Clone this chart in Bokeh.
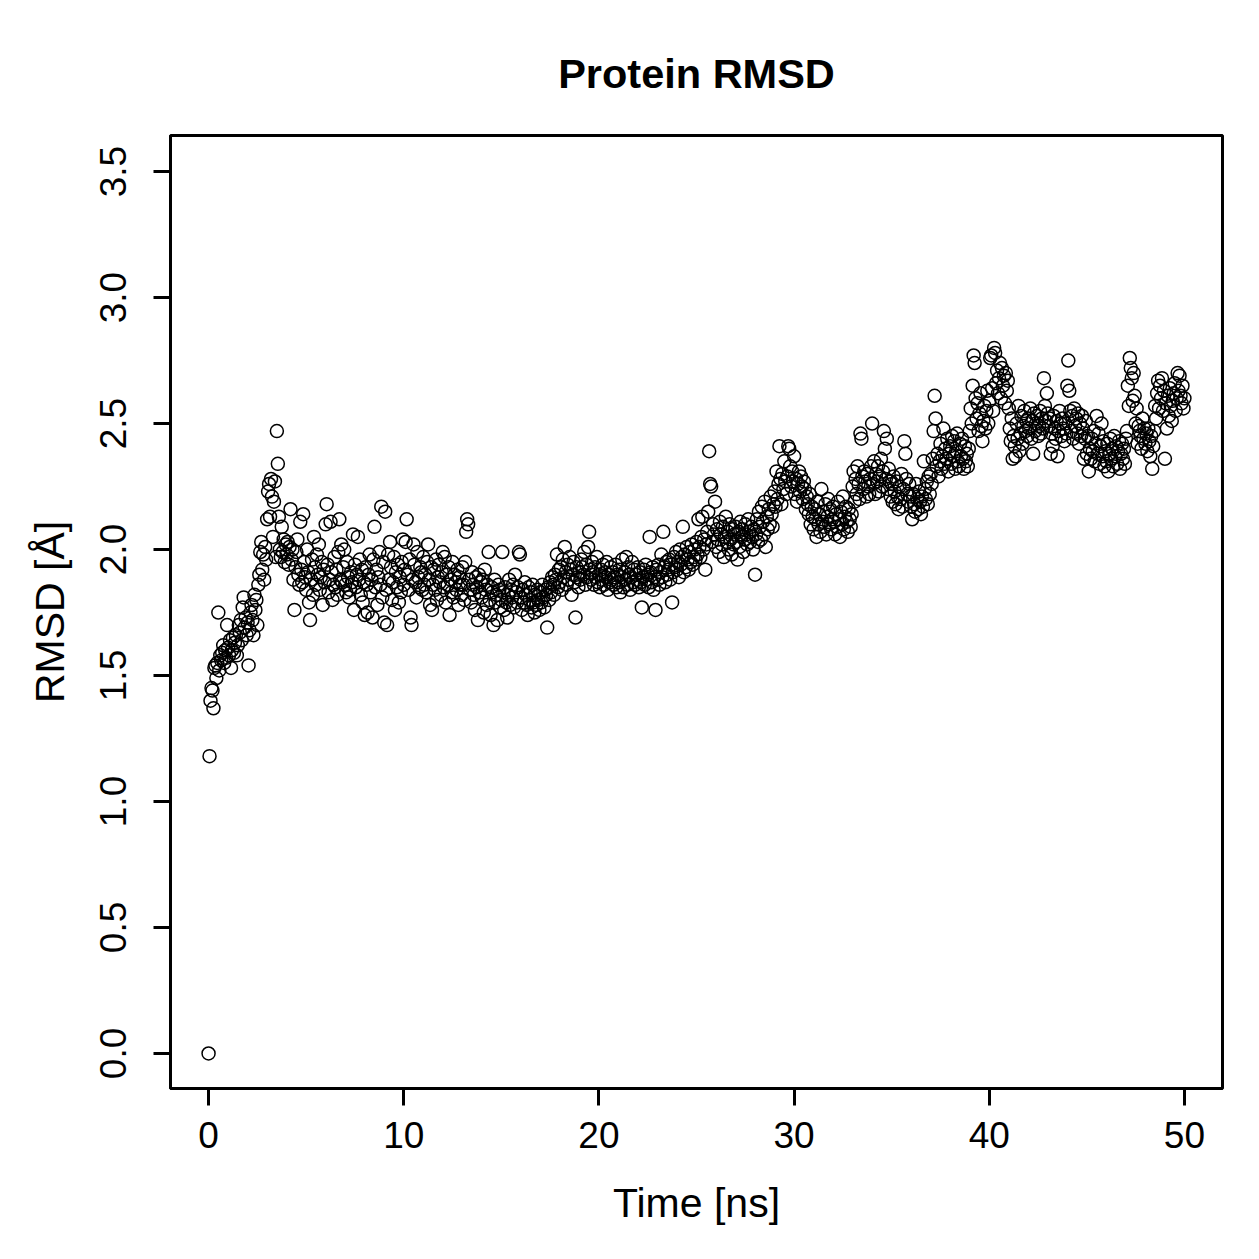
from bokeh.plotting import figure
from bokeh.models import Range1d, FixedTicker
from bokeh.embed import file_html
from bokeh.resources import INLINE

# sampling interval of the trajectory (ns)
time_step_ns = 0.05

# RMSD values (Angstrom), one row per nanosecond (20 frames each)
rmsd_rows = [
    [0.00, 1.18, 1.40, 1.45, 1.44, 1.37, 1.53, 1.54, 1.49, 1.55, 1.75, 1.52, 1.58, 1.56, 1.59, 1.62, 1.55, 1.60, 1.57, 1.70],
    [1.61, 1.58, 1.64, 1.53, 1.60, 1.65, 1.59, 1.63, 1.66, 1.58, 1.62, 1.70, 1.67, 1.72, 1.64, 1.77, 1.81, 1.69, 1.73, 1.66],
    [1.71, 1.54, 1.68, 1.75, 1.78, 1.72, 1.66, 1.82, 1.76, 1.80, 1.70, 1.86, 1.90, 1.99, 2.03, 1.92, 1.98, 1.88, 2.01, 1.96],
    [2.12, 2.23, 2.26, 2.13, 2.28, 2.21, 2.05, 2.19, 2.27, 1.97, 2.47, 2.34, 2.13, 2.00, 1.97, 2.09, 1.99, 2.04, 1.95, 2.02],
    [1.98, 2.03, 1.94, 2.01, 2.16, 1.96, 2.00, 1.88, 1.76, 1.93, 1.99, 2.04, 1.90, 1.86, 2.11, 1.92, 1.87, 2.14, 1.95, 1.89],
    [1.84, 2.00, 1.91, 1.79, 1.72, 1.88, 1.96, 1.82, 2.05, 1.93, 1.86, 1.98, 1.90, 2.02, 1.84, 1.89, 1.95, 1.78, 1.92, 1.87],
    [2.10, 2.18, 1.94, 1.83, 1.88, 2.11, 1.91, 1.80, 1.86, 1.97, 1.85, 1.92, 1.82, 1.99, 2.12, 1.88, 2.02, 1.87, 1.93, 2.00],
    [1.86, 1.83, 1.95, 1.89, 1.81, 1.84, 1.91, 1.87, 2.06, 1.76, 1.94, 1.85, 1.90, 2.05, 1.88, 1.96, 1.82, 1.92, 1.79, 1.87],
    [1.74, 1.93, 1.86, 1.75, 1.90, 1.98, 1.83, 1.88, 1.73, 1.96, 2.09, 1.85, 1.92, 1.78, 1.89, 1.99, 1.86, 2.17, 1.81, 1.95],
    [1.71, 2.15, 1.84, 1.70, 1.98, 1.88, 2.03, 1.93, 1.80, 1.87, 1.97, 1.76, 1.91, 1.85, 1.94, 1.79, 1.89, 1.83, 1.95, 2.04],
    [1.86, 1.92, 2.03, 2.12, 1.90, 1.84, 1.96, 1.73, 1.70, 1.88, 2.02, 1.94, 1.87, 1.81, 1.99, 1.89, 1.85, 1.93, 1.91, 1.84],
    [1.97, 1.86, 1.90, 1.83, 1.95, 2.02, 1.88, 1.78, 1.93, 1.76, 1.86, 1.92, 1.84, 1.96, 1.80, 1.89, 1.94, 1.87, 1.82, 1.91],
    [1.99, 1.85, 1.97, 1.79, 1.90, 1.86, 1.93, 1.74, 1.88, 1.83, 1.95, 1.81, 1.90, 1.87, 1.84, 1.92, 1.78, 1.89, 1.86, 1.82],
    [1.93, 1.86, 1.80, 1.95, 2.07, 2.12, 2.10, 1.88, 1.84, 1.79, 1.91, 1.86, 1.82, 1.76, 1.89, 1.85, 1.72, 1.90, 1.83, 1.87],
    [1.81, 1.88, 1.75, 1.92, 1.84, 1.78, 1.86, 1.99, 1.80, 1.74, 1.85, 1.83, 1.70, 1.88, 1.79, 1.82, 1.72, 1.86, 1.84, 1.77],
    [1.80, 1.99, 1.83, 1.76, 1.85, 1.79, 1.73, 1.82, 1.88, 1.78, 1.84, 1.81, 1.86, 1.77, 1.90, 1.83, 1.79, 1.85, 1.99, 1.98],
    [1.81, 1.76, 1.84, 1.79, 1.87, 1.82, 1.78, 1.74, 1.85, 1.80, 1.83, 1.77, 1.86, 1.79, 1.75, 1.82, 1.78, 1.84, 1.80, 1.76],
    [1.83, 1.79, 1.86, 1.81, 1.77, 1.84, 1.82, 1.69, 1.85, 1.80, 1.87, 1.83, 1.89, 1.86, 1.82, 1.90, 1.88, 1.98, 1.85, 1.92],
    [1.87, 1.93, 1.84, 1.96, 1.89, 2.01, 1.91, 1.86, 1.94, 1.88, 1.97, 1.92, 1.82, 1.90, 1.95, 1.87, 1.73, 1.93, 1.89, 1.85],
    [1.91, 1.88, 1.96, 1.93, 1.90, 1.99, 1.86, 1.94, 1.89, 2.01, 2.07, 1.92, 1.88, 1.95, 1.91, 1.86, 1.93, 1.89, 1.97, 1.87],
    [1.90, 1.85, 1.92, 1.88, 1.94, 1.86, 1.91, 1.89, 1.95, 1.84, 1.90, 1.87, 1.93, 1.88, 1.91, 1.86, 1.89, 1.94, 1.85, 1.90],
    [1.87, 1.92, 1.83, 1.89, 1.96, 1.85, 1.91, 1.88, 1.97, 1.86, 1.93, 1.90, 1.84, 1.89, 1.95, 1.87, 1.92, 1.86, 1.90, 1.88],
    [1.93, 1.85, 1.91, 1.87, 1.77, 1.89, 1.92, 1.86, 1.94, 1.88, 1.90, 1.85, 2.05, 1.91, 1.87, 1.93, 1.84, 1.89, 1.76, 1.92],
    [1.88, 1.94, 1.86, 1.91, 1.98, 1.89, 2.07, 1.93, 1.87, 1.95, 1.90, 1.92, 1.96, 1.88, 1.94, 1.79, 1.91, 1.97, 1.93, 1.99],
    [1.92, 1.95, 1.89, 2.00, 1.94, 1.97, 2.09, 1.91, 1.98, 1.93, 2.01, 1.96, 1.92, 1.99, 1.95, 2.02, 1.94, 1.97, 2.00, 1.96],
    [2.03, 1.98, 2.12, 2.01, 1.97, 2.05, 2.13, 2.00, 2.04, 1.92, 2.02, 2.07, 2.15, 2.39, 2.26, 2.25, 2.03, 2.10, 2.06, 2.19],
    [2.01, 2.08, 2.04, 1.99, 2.11, 2.06, 2.02, 2.09, 1.97, 2.05, 2.13, 2.03, 2.07, 2.00, 2.10, 2.04, 1.98, 2.08, 2.02, 2.06],
    [2.09, 2.03, 1.96, 2.07, 2.01, 2.11, 2.05, 2.08, 1.99, 2.04, 2.10, 2.06, 2.02, 2.12, 2.07, 2.03, 2.09, 2.05, 2.00, 2.08],
    [1.90, 2.06, 2.12, 2.03, 2.15, 2.09, 2.04, 2.17, 2.11, 2.06, 2.19, 2.01, 2.13, 2.08, 2.16, 2.10, 2.21, 2.14, 2.09, 2.18],
    [2.23, 2.17, 2.31, 2.20, 2.26, 2.41, 2.28, 2.18, 2.30, 2.24, 2.35, 2.27, 2.22, 2.29, 2.41, 2.40, 2.33, 2.25, 2.31, 2.27],
    [2.37, 2.22, 2.28, 2.19, 2.26, 2.31, 2.23, 2.29, 2.25, 2.20, 2.27, 2.24, 2.16, 2.21, 2.18, 2.14, 2.22, 2.10, 2.17, 2.13],
    [2.08, 2.16, 2.12, 2.05, 2.19, 2.10, 2.14, 2.07, 2.24, 2.11, 2.15, 2.09, 2.18, 2.06, 2.13, 2.20, 2.10, 2.16, 2.08, 2.12],
    [2.17, 2.11, 2.06, 2.14, 2.09, 2.19, 2.12, 2.05, 2.15, 2.10, 2.21, 2.08, 2.13, 2.17, 2.11, 2.07, 2.16, 2.12, 2.09, 2.14],
    [2.25, 2.31, 2.19, 2.28, 2.22, 2.33, 2.26, 2.20, 2.46, 2.44, 2.29, 2.24, 2.31, 2.27, 2.21, 2.30, 2.25, 2.22, 2.28, 2.33],
    [2.50, 2.26, 2.35, 2.22, 2.30, 2.27, 2.33, 2.23, 2.29, 2.36, 2.25, 2.31, 2.47, 2.40, 2.28, 2.44, 2.24, 2.32, 2.27, 2.21],
    [2.26, 2.19, 2.29, 2.23, 2.18, 2.27, 2.21, 2.16, 2.25, 2.20, 2.30, 2.17, 2.24, 2.43, 2.38, 2.28, 2.22, 2.19, 2.26, 2.21],
    [2.17, 2.12, 2.22, 2.18, 2.15, 2.26, 2.20, 2.16, 2.23, 2.19, 2.14, 2.21, 2.17, 2.35, 2.24, 2.20, 2.27, 2.18, 2.29, 2.22],
    [2.30, 2.26, 2.36, 2.47, 2.61, 2.52, 2.33, 2.38, 2.29, 2.35, 2.42, 2.32, 2.37, 2.48, 2.34, 2.40, 2.36, 2.44, 2.31, 2.38],
    [2.41, 2.34, 2.45, 2.37, 2.43, 2.32, 2.39, 2.46, 2.35, 2.33, 2.42, 2.37, 2.44, 2.36, 2.32, 2.41, 2.35, 2.38, 2.33, 2.40],
    [2.47, 2.56, 2.50, 2.65, 2.77, 2.74, 2.60, 2.52, 2.58, 2.47, 2.54, 2.62, 2.49, 2.43, 2.51, 2.57, 2.48, 2.55, 2.63, 2.50],
    [2.59, 2.76, 2.77, 2.64, 2.55, 2.80, 2.78, 2.66, 2.71, 2.62, 2.68, 2.74, 2.60, 2.72, 2.65, 2.69, 2.58, 2.70, 2.63, 2.67],
    [2.56, 2.48, 2.43, 2.52, 2.36, 2.45, 2.41, 2.37, 2.50, 2.44, 2.57, 2.39, 2.46, 2.53, 2.42, 2.49, 2.55, 2.47, 2.51, 2.45],
    [2.52, 2.48, 2.56, 2.44, 2.51, 2.38, 2.54, 2.47, 2.50, 2.53, 2.45, 2.49, 2.55, 2.46, 2.52, 2.48, 2.68, 2.57, 2.51, 2.62],
    [2.54, 2.49, 2.52, 2.38, 2.46, 2.41, 2.53, 2.48, 2.44, 2.51, 2.37, 2.47, 2.55, 2.50, 2.45, 2.52, 2.48, 2.43, 2.50, 2.46],
    [2.65, 2.75, 2.63, 2.55, 2.47, 2.53, 2.44, 2.56, 2.49, 2.52, 2.46, 2.54, 2.42, 2.50, 2.45, 2.53, 2.48, 2.36, 2.44, 2.51],
    [2.38, 2.45, 2.31, 2.40, 2.36, 2.44, 2.39, 2.47, 2.35, 2.42, 2.53, 2.38, 2.46, 2.34, 2.41, 2.50, 2.37, 2.43, 2.33, 2.39],
    [2.35, 2.42, 2.31, 2.38, 2.44, 2.36, 2.40, 2.33, 2.45, 2.37, 2.41, 2.34, 2.39, 2.43, 2.32, 2.38, 2.42, 2.36, 2.40, 2.34],
    [2.44, 2.47, 2.65, 2.57, 2.76, 2.72, 2.68, 2.59, 2.70, 2.61, 2.50, 2.56, 2.42, 2.49, 2.47, 2.45, 2.40, 2.52, 2.44, 2.48],
    [2.42, 2.46, 2.39, 2.48, 2.43, 2.37, 2.45, 2.32, 2.41, 2.47, 2.57, 2.52, 2.62, 2.67, 2.56, 2.65, 2.60, 2.68, 2.55, 2.63],
    [2.36, 2.58, 2.48, 2.61, 2.53, 2.64, 2.57, 2.51, 2.59, 2.62, 2.66, 2.55, 2.60, 2.70, 2.63, 2.69, 2.61, 2.58, 2.65, 2.56],
    [2.60],
]

x_ticks = [0, 10, 20, 30, 40, 50]
y_ticks = [0.0, 0.5, 1.0, 1.5, 2.0, 2.5, 3.0, 3.5]
y_tick_labels = {0.0: "0.0", 0.5: "0.5", 1.0: "1.0", 1.5: "1.5",
                 2.0: "2.0", 2.5: "2.5", 3.0: "3.0", 3.5: "3.5"}

rmsd = [v for row in rmsd_rows for v in row]
time_ns = [round(i * time_step_ns, 2) for i in range(len(rmsd))]

FONT = "Liberation Sans"

p = figure(width=1259, height=1259, output_backend="svg", toolbar_location=None,
           x_range=Range1d(-1.95, 51.95), y_range=Range1d(-0.139, 3.643),
           min_border_left=170, min_border_right=37, min_border_top=135, min_border_bottom=171,
           title="Protein RMSD")

p.title.align = "center"
p.title.text_font = FONT
p.title.text_font_size = "41.5px"
p.title.text_font_style = "bold"
p.title.text_color = "black"
p.title.standoff = 77

p.xgrid.visible = False
p.ygrid.visible = False
p.background_fill_color = "white"
p.border_fill_color = "white"
p.outline_line_color = "black"
p.outline_line_width = 3
p.outline_line_alpha = 1.0

p.scatter(time_ns, rmsd, marker="circle", size=13, fill_color=None,
          line_color="black", line_width=1.5)

for ax in (p.xaxis[0], p.yaxis[0]):
    ax.major_tick_out = 17
    ax.major_tick_in = 0
    ax.minor_tick_out = 0
    ax.minor_tick_in = 0
    ax.major_tick_line_width = 3
    ax.major_tick_line_color = "black"
    ax.axis_line_color = "black"
    ax.axis_line_width = 3
    ax.major_label_text_font = FONT
    ax.major_label_text_font_size = "37px"
    ax.major_label_text_color = "black"
    ax.axis_label_text_font = FONT
    ax.axis_label_text_font_size = "41px"
    ax.axis_label_text_font_style = "normal"
    ax.axis_label_text_color = "black"

p.xaxis.ticker = FixedTicker(ticks=x_ticks)
p.yaxis.ticker = FixedTicker(ticks=y_ticks)
p.yaxis.major_label_overrides = y_tick_labels
p.yaxis.major_label_orientation = "vertical"

p.xaxis.axis_label = "Time [ns]"
p.yaxis.axis_label = "RMSD [Å]"
p.xaxis.major_label_standoff = 16
p.yaxis.major_label_standoff = 27
p.xaxis.axis_label_standoff = 29
p.yaxis.axis_label_standoff = 25

open("out.html", "w").write(file_html(p, INLINE))
